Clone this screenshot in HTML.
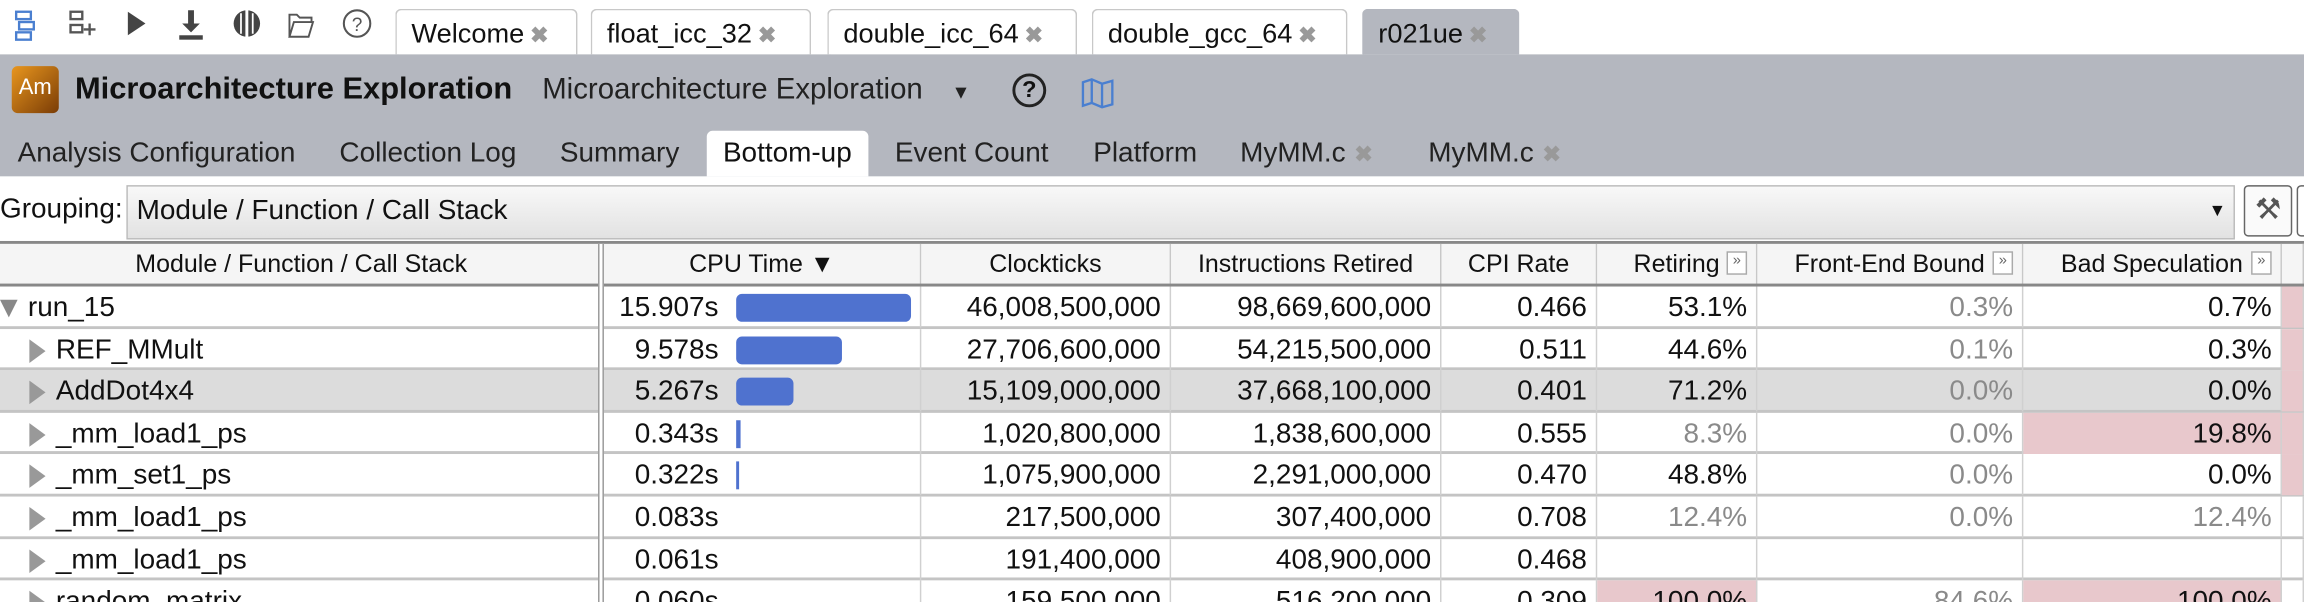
<!DOCTYPE html>
<html><head><meta charset="utf-8">
<style>
html,body{margin:0;padding:0;width:2304px;height:602px;overflow:hidden;background:#fff}
#root{position:absolute;left:0;top:0;width:1568px;height:410px;transform:scale(1.46939);transform-origin:0 0;overflow:hidden;font-family:"Liberation Sans",sans-serif;color:#111}
.abs{position:absolute}
.tab{position:absolute;top:6px;height:31px;border:1px solid #c8c8c8;border-bottom:none;border-radius:4px 4px 0 0;background:#fff;font-size:18.5px;line-height:31px;padding-left:10px;box-sizing:border-box}
.x{color:#999;font-weight:bold;font-size:15px;margin-left:4px}
.vt{position:absolute;top:93px;font-size:19px;line-height:24px;color:#222}
.hdr{position:absolute;top:166px;height:28px;font-size:17px;line-height:28px;text-align:center;background:#f5f5f5;border-right:1px solid #c8c8c8;box-sizing:border-box}
.exp{display:inline-block;width:12px;height:14px;border:1px solid #aaa;font-size:10px;line-height:12px;color:#666;position:absolute;right:6px;top:5px;background:#fff}
.cell{position:absolute;height:28px;font-size:19px;line-height:29px;text-align:right;padding-right:6px;box-sizing:border-box;border-right:1px solid #d0d0d0;white-space:nowrap}
.g{color:#8a8a8a}
.p{background:#e8c8cc}
</style></head><body>
<div id="root">
  <svg class="abs" style="left:0;top:0" width="260" height="37">
    <g fill="none" stroke="#4a7fd0" stroke-width="1.6"><rect x="11" y="8" width="10" height="5"/><rect x="13" y="15" width="10" height="5"/><rect x="11" y="22" width="10" height="5"/></g>
    <g fill="none" stroke="#555" stroke-width="1.6"><rect x="48" y="8" width="8" height="5"/><rect x="48" y="17" width="8" height="5"/><path d="M57 20h8M61 16v8"/></g>
    <path d="M87 8 L99 16 L87 24Z" fill="#444"/>
    <g fill="#444"><path d="M128 7h4v9h4l-6 6-6-6h4z"/><rect x="122" y="24" width="16" height="3"/></g>
    <g fill="#444"><circle cx="168" cy="16" r="9"/></g><path d="M168 6v20" stroke="#fff" stroke-width="2"/><path d="M164 9v14M172 9v14" stroke="#fff" stroke-width="1.2"/>
    <path d="M197 10h5l2 2h8v3h-12l-3 10zM197 25l3-10h13l-3 10z" fill="none" stroke="#555" stroke-width="1.3"/>
    <circle cx="243" cy="16" r="9" fill="none" stroke="#555" stroke-width="1.4"/><text x="243" y="21" font-size="13" text-anchor="middle" fill="#555" font-family="Liberation Sans">?</text>
  </svg>
  <div class="tab" style="left:269px;width:124px">Welcome<span class="x">✖</span></div>
  <div class="tab" style="left:402px;width:150px">float_icc_32<span class="x">✖</span></div>
  <div class="tab" style="left:563px;width:170px">double_icc_64<span class="x">✖</span></div>
  <div class="tab" style="left:743px;width:174px">double_gcc_64<span class="x">✖</span></div>
  <div class="tab" style="left:927px;width:107px;background:#b4b7bf;border-color:#b4b7bf">r021ue<span class="x">✖</span></div>
  <div class="abs" style="left:0;top:37px;width:1568px;height:83px;background:#b4b7bf"></div>
  <div class="abs" style="left:8px;top:45px;width:32px;height:32px;border-radius:4px;background:linear-gradient(135deg,#e8961e,#7a3c06);color:#fff;font-size:15px;line-height:30px;text-align:center">Am</div>
  <div class="abs" style="left:51px;top:49px;font-size:21px;font-weight:bold;line-height:24px">Microarchitecture Exploration</div>
  <div class="abs" style="left:369px;top:49px;font-size:20px;line-height:24px;color:#222">Microarchitecture Exploration <span style="font-size:13px;margin-left:14px">▼</span></div>
  <div class="abs" style="left:689px;top:50px;width:19px;height:19px;border:2px solid #222;border-radius:50%;font-size:16px;line-height:19px;text-align:center;font-weight:bold">?</div>
  <svg class="abs" style="left:735px;top:48px" width="24" height="26"><path d="M2 8l6-2 7 3 7-2v16l-7 2-7-3-6 2z M8 6v16 M15 9v16" fill="none" stroke="#4a7fd0" stroke-width="1.6"/></svg>
  <div class="vt" style="left:12px">Analysis Configuration</div>
  <div class="vt" style="left:231px">Collection Log</div>
  <div class="vt" style="left:381px">Summary</div>
  <div class="abs" style="left:481px;top:89px;width:110px;height:31px;background:#fff;border-radius:4px 4px 0 0"></div>
  <div class="vt" style="left:492px;color:#111">Bottom-up</div>
  <div class="vt" style="left:609px">Event Count</div>
  <div class="vt" style="left:744px">Platform</div>
  <div class="vt" style="left:844px">MyMM.c<span class="x" style="margin-left:6px">✖</span></div>
  <div class="vt" style="left:972px">MyMM.c<span class="x" style="margin-left:6px">✖</span></div>
  <div class="abs" style="left:0;top:131px;font-size:19px;line-height:24px">Grouping:</div>
  <div class="abs" style="left:86px;top:126px;width:1435px;height:37px;box-sizing:border-box;border:1px solid #bbb;background:linear-gradient(#f8f8f8,#e2e2e2);font-size:19px;line-height:33px;padding-left:6px">Module / Function / Call Stack<span style="position:absolute;right:5px;font-size:12px">▼</span></div>
  <div class="abs" style="left:1527px;top:126px;width:33px;height:35px;box-sizing:border-box;border:1px solid #666;border-radius:3px;background:#fafafa;font-size:20px;line-height:33px;text-align:center;color:#555">⚒</div>
  <div class="abs" style="left:1563px;top:126px;width:10px;height:35px;box-sizing:border-box;border:1px solid #666;border-radius:3px"></div>
  <div class="abs" style="left:0;top:164px;width:1568px;height:2px;background:#888"></div>
  <div id="grid"></div>
  <div class="abs" style="left:0;top:193px;width:1568px;height:2px;background:#888"></div>
  <div class="abs" style="left:407px;top:166px;width:4px;height:244px;border-left:1px solid #999;border-right:1px solid #999;box-sizing:border-box;background:#fff"></div>
</div>
<script>
const colX=[0,411,627,797,981,1087,1196,1377,1553,1568];
const headers=["Module / Function / Call Stack","CPU Time ▼","Clockticks","Instructions Retired","CPI Rate","Retiring","Front-End Bound","Bad Speculation",""];
const names=["run_15","REF_MMult","AddDot4x4","_mm_load1_ps","_mm_set1_ps","_mm_load1_ps","_mm_load1_ps","random_matrix"];
const cpuTime=[15.907,9.578,5.267,0.343,0.322,0.083,0.061,0.060];
const clockticks=["46,008,500,000","27,706,600,000","15,109,000,000","1,020,800,000","1,075,900,000","217,500,000","191,400,000","159,500,000"];
const instrRetired=["98,669,600,000","54,215,500,000","37,668,100,000","1,838,600,000","2,291,000,000","307,400,000","408,900,000","516,200,000"];
const cpiRate=["0.466","0.511","0.401","0.555","0.470","0.708","0.468","0.309"];
const retiring=["53.1%","44.6%","71.2%","8.3%","48.8%","12.4%","","100.0%"];
const frontEnd=["0.3%","0.1%","0.0%","0.0%","0.0%","0.0%","","84.6%"];
const badSpec=["0.7%","0.3%","0.0%","19.8%","0.0%","12.4%","","100.0%"];
const grayCells=[[0,6],[1,6],[2,6],[3,5],[3,6],[4,6],[5,5],[5,6],[5,7],[7,6]];
const pinkCells=[[3,7],[7,5],[7,7],[0,8],[1,8],[2,8],[3,8],[4,8]];
const grid=document.getElementById('grid');
const maxCpu=Math.max(...cpuTime);
const hdrNames=["col-function","col-cpu-time","col-clockticks","col-instructions-retired","col-cpi-rate","col-retiring","col-front-end-bound","col-bad-speculation","col-next"];
headers.forEach((h,i)=>{
  const d=document.createElement('div');
  d.className='hdr';
  d.style.left=colX[i]+'px';d.style.width=(colX[i+1]-colX[i])+'px';
  d.textContent=h;
  if(i>=5&&i<=7){const e=document.createElement('span');e.className='exp';e.textContent='»';
    
    
    d.appendChild(e);}
  
  
  grid.appendChild(d);
});
const rowH=28.6, top0=195;
names.forEach((n,r)=>{
  const y=top0+r*rowH;
  const row=document.createElement('div');
  row.className='abs';
  row.style.cssText=`left:0;top:${y}px;width:1568px;height:${rowH}px;background:${r==2?'#dcdcdc':'#fff'};border-bottom:2px solid #c4c4c4;box-sizing:border-box`;
  
  
  grid.appendChild(row);
  const vals=[n,cpuTime[r].toFixed(3)+'s',clockticks[r],instrRetired[r],cpiRate[r],retiring[r],frontEnd[r],badSpec[r],""];
  vals.forEach((v,c)=>{
    const d=document.createElement('div');
    d.className='cell';
    d.style.left=colX[c]+'px';d.style.top='0px';d.style.width=(colX[c+1]-colX[c])+'px';
    if(grayCells.some(g=>g[0]==r&&g[1]==c)) d.classList.add('g');
    if(pinkCells.some(g=>g[0]==r&&g[1]==c)) d.classList.add('p');
    if(c==0){
      d.style.textAlign='left';
      d.style.paddingLeft=(r==0?19:38)+'px';
      const t=document.createElement('span');
      t.style.cssText=r==0?'position:absolute;left:0;top:9px;width:0;height:0;border-left:6px solid transparent;border-right:6px solid transparent;border-top:12px solid #888':'position:absolute;left:20px;top:7px;width:0;height:0;border-top:8px solid transparent;border-bottom:8px solid transparent;border-left:11px solid #999';
      
      
      d.appendChild(t);
      d.appendChild(document.createTextNode(v));
    } else if(c==1){
      d.style.textAlign='left';
      const s=document.createElement('span');
      s.style.cssText='position:absolute;right:137px;';
      s.textContent=v;
      d.appendChild(s);
      if(cpuTime[r]>0.2){
        const b=document.createElement('div');
        const w=Math.max(2,cpuTime[r]/maxCpu*119);
        b.style.cssText=`position:absolute;left:90px;top:5px;height:19px;width:${w}px;background:#4f72cf;border-radius:${w>6?4:0}px`;
        
        
        d.appendChild(b);
      }
    } else d.textContent=v;
    
    
    row.appendChild(d);
  });
});
</script>
</body></html>
